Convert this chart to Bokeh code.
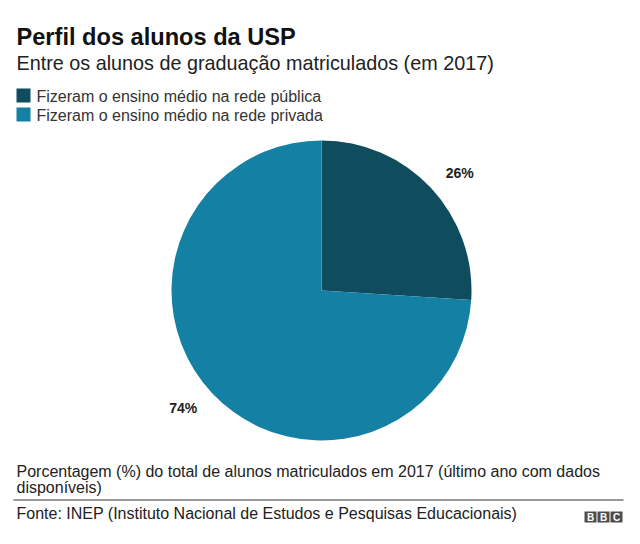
import math
from bokeh.plotting import figure
from bokeh.models import ColumnDataSource
from bokeh.core.properties import value
from bokeh.embed import file_html
from bokeh.resources import INLINE

# ---- data ----
categories = ["Fizeram o ensino médio na rede pública", "Fizeram o ensino médio na rede privada"]
shares = [26, 74]
labels = ["26%", "74%"]
colors = ["#0e4c5e", "#1480a3"]

title = "Perfil dos alunos da USP"
subtitle = "Entre os alunos de graduação matriculados (em 2017)"
note_lines = ["Porcentagem (%) do total de alunos matriculados em 2017 (último ano com dados",
              "disponíveis)"]
source_text = "Fonte: INEP (Instituto Nacional de Estudos e Pesquisas Educacionais)"

W, H = 624, 528
FONT = value("Liberation Sans")
SH = 5  # baseline correction


def X(px):
    return px


def Y(py):
    return H - py


def YT(py):
    return H - (py - SH)


p = figure(width=W, height=H, x_range=(0, W), y_range=(0, H),
           output_backend="svg", toolbar_location=None, min_border=0)
p.axis.visible = False
p.grid.visible = False
p.outline_line_color = None
p.background_fill_color = "white"

# ---- pie: clockwise from 12 o'clock ----
total = sum(shares)
starts, ends, mids = [], [], []
acc = 0.0
for s in shares:
    a0 = math.pi / 2 - 2 * math.pi * acc / total
    acc += s
    a1 = math.pi / 2 - 2 * math.pi * acc / total
    starts.append(a0)
    ends.append(a1)
    mids.append((a0 + a1) / 2)

cx, cy, r = X(321), Y(290), 150
src = ColumnDataSource(dict(start=starts, end=ends, color=colors))
p.wedge(x=cx, y=cy, radius=r, start_angle="start", end_angle="end",
        direction="clock", fill_color="color", line_color=None, source=src)

lr = 180


def sgn(v):
    return 1 if v >= 0 else -1


lab_src = ColumnDataSource(dict(
    x=[cx + lr * math.cos(m) + 7 * sgn(math.cos(m)) for m in mids],
    y=[cy + lr * math.sin(m) - 6 * sgn(math.sin(m)) for m in mids],
    t=labels))
p.text(x="x", y="y", text="t", source=lab_src, text_font=FONT,
       text_font_style="bold", text_font_size="14px", text_color="#222222",
       text_align="center", text_baseline="middle")

# ---- title & subtitle ----
p.text(x=[X(16)], y=[YT(41)], text=[title], text_font=FONT, text_font_style="bold",
       text_font_size="23.6px", text_color="#111111", text_baseline="alphabetic")
p.text(x=[X(16)], y=[YT(67)], text=[subtitle], text_font=FONT,
       text_font_size="19.8px", text_color="#222222", text_baseline="alphabetic")

# ---- legend ----
leg_y = [95, 114]
p.rect(x=[X(23)] * 2, y=[Y(v) for v in leg_y], width=14, height=14,
       fill_color=colors, line_color=None)
p.text(x=[X(36)] * 2, y=[YT(v + 6) for v in leg_y], text=categories, text_font=FONT,
       text_font_size="16px", text_color="#333333", text_baseline="alphabetic")

# ---- footnote ----
p.text(x=[X(16)] * 2, y=[YT(476), YT(492)], text=note_lines, text_font=FONT,
       text_font_size="16px", text_color="#222222", text_baseline="alphabetic")
p.segment(x0=[X(13)], y0=[Y(499.5)], x1=[X(623)], y1=[Y(499.5)],
          line_color="#333333", line_width=1)
p.text(x=[X(16)], y=[YT(518)], text=[source_text], text_font=FONT,
       text_font_size="16px", text_color="#222222", text_baseline="alphabetic")

# ---- BBC logo ----
bx = [590, 603, 616]
p.rect(x=[X(v) for v in bx], y=[Y(516.5)] * 3, width=12, height=11,
       fill_color="#4d4d4d", line_color=None)
p.text(x=[X(v) for v in bx], y=[Y(516.5)] * 3, text=["B", "B", "C"], text_font=FONT,
       text_font_style="bold", text_font_size="10px", text_color="white",
       text_align="center", text_baseline="middle")

open("out.html", "w").write(file_html(p, INLINE))
